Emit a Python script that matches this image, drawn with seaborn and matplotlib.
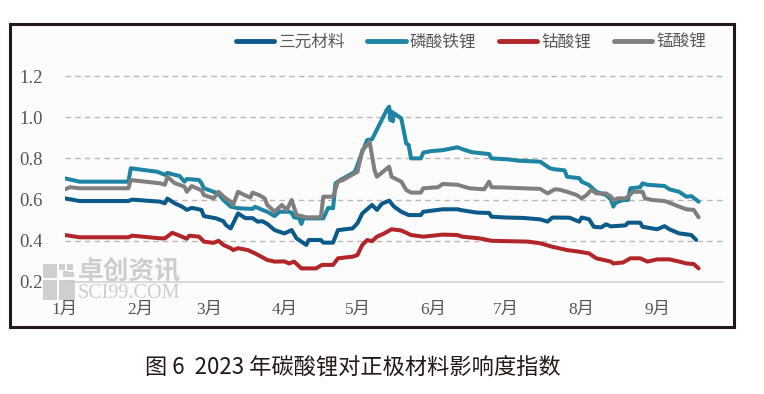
import numpy as np
import pandas as pd
import matplotlib
matplotlib.use("Agg")
import matplotlib.pyplot as plt
from matplotlib.patches import Rectangle
import seaborn as sns

# ---------------- data (day offset from 2023-01-01, index value) -------------
series_names = ["三元材料", "磷酸铁锂", "钴酸锂", "锰酸锂"]

ncm_day = [0, 6, 26, 27.5, 39, 41, 42, 45, 48, 50, 52, 56, 57, 62, 65, 66, 68, 71, 74, 77, 79, 81, 83, 86,
           90, 93, 95, 99, 100, 105, 106, 110, 112, 118, 120, 122, 126, 128, 130, 133, 135, 138, 141, 146,
           147, 155, 161, 163, 169, 174, 175, 181, 188, 195, 198, 200, 207, 211, 212, 215, 217, 220, 222,
           224, 230, 231, 236, 237, 243, 246, 248, 252, 257, 259]
ncm_val = [0.606, 0.593, 0.593, 0.600, 0.590, 0.582, 0.605, 0.582, 0.566, 0.550, 0.560, 0.550, 0.520, 0.509,
           0.495, 0.477, 0.460, 0.533, 0.510, 0.510, 0.493, 0.495, 0.482, 0.452, 0.436, 0.452, 0.412, 0.380,
           0.404, 0.404, 0.391, 0.391, 0.452, 0.460, 0.485, 0.533, 0.574, 0.550, 0.580, 0.595, 0.566, 0.541,
           0.525, 0.525, 0.541, 0.553, 0.553, 0.548, 0.537, 0.535, 0.517, 0.513, 0.511, 0.504, 0.493, 0.513,
           0.512, 0.493, 0.513, 0.505, 0.468, 0.465, 0.480, 0.470, 0.475, 0.488, 0.488, 0.468, 0.456, 0.471,
           0.456, 0.436, 0.428, 0.404]

lfp_day = [0, 6, 26, 27, 38, 41, 42, 45, 47, 49, 50, 55, 56, 57, 61, 63, 65, 68, 71, 77, 78, 81, 83, 86, 88,
           92, 93, 94, 96, 97, 98, 99, 106, 108, 110, 111, 113, 119, 122, 124, 126, 132, 133, 133.5, 134,
           134.5, 135, 138, 140, 141, 142, 146, 147, 150, 155, 161, 163, 167, 174, 175, 182, 186, 195, 197,
           199, 201, 205, 206, 211, 212, 215, 216, 218, 222, 224, 225, 226, 229, 231, 232, 236, 237, 239,
           246, 248, 252, 255, 257, 260]
lfp_val = [0.703, 0.687, 0.687, 0.752, 0.735, 0.720, 0.730, 0.720, 0.715, 0.687, 0.700, 0.695, 0.680, 0.655,
           0.638, 0.628, 0.598, 0.566, 0.558, 0.555, 0.565, 0.550, 0.541, 0.520, 0.541, 0.541, 0.535, 0.514,
           0.510, 0.482, 0.514, 0.509, 0.509, 0.560, 0.558, 0.679, 0.695, 0.735, 0.832, 0.889, 0.893, 1.035,
           1.051, 0.986, 1.027, 0.980, 1.019, 0.994, 0.873, 0.865, 0.800, 0.800, 0.828, 0.835, 0.840, 0.854,
           0.845, 0.830, 0.821, 0.800, 0.795, 0.789, 0.784, 0.768, 0.752, 0.747, 0.742, 0.711, 0.704, 0.687,
           0.671, 0.660, 0.638, 0.622, 0.600, 0.566, 0.585, 0.598, 0.598, 0.655, 0.660, 0.679, 0.672, 0.666,
           0.650, 0.638, 0.614, 0.617, 0.590]

lco_day = [0, 6, 26, 27.5, 39, 41, 44, 47, 50, 51, 55, 57, 61, 63, 65, 68, 69, 71, 75, 78, 83, 86, 90, 92,
           94, 97, 103, 105.5, 110, 112, 118, 120, 122, 124, 126, 128, 131, 134, 138, 142, 147, 155, 161,
           163, 170, 175, 190, 195, 200, 206, 211, 215, 218, 224, 225, 229, 232, 236, 239, 243, 248, 252,
           255, 258, 260]
lco_val = [0.428, 0.417, 0.417, 0.425, 0.412, 0.412, 0.439, 0.425, 0.410, 0.425, 0.420, 0.396, 0.390, 0.400,
           0.380, 0.364, 0.355, 0.364, 0.355, 0.339, 0.307, 0.299, 0.300, 0.290, 0.299, 0.266, 0.266, 0.283,
           0.283, 0.315, 0.323, 0.331, 0.380, 0.404, 0.398, 0.420, 0.436, 0.456, 0.450, 0.428, 0.420, 0.430,
           0.428, 0.420, 0.412, 0.400, 0.396, 0.388, 0.371, 0.355, 0.347, 0.339, 0.315, 0.299, 0.290, 0.295,
           0.315, 0.315, 0.299, 0.310, 0.310, 0.299, 0.290, 0.287, 0.266]

lmo_day = [0, 2, 6, 26, 27, 39, 41, 42, 45, 49, 50, 52, 56, 57, 61, 63, 65, 66, 68, 69, 71, 74, 76, 77, 80,
           82, 83, 86, 89, 91, 93, 95, 97, 99, 105, 106, 110, 112, 114, 120, 122, 124, 125, 127, 128, 133,
           134, 138, 140, 142, 146, 147, 153, 155, 161, 166, 172, 174, 175, 182, 188, 195, 198, 201, 203,
           206, 210, 212, 214, 216, 218, 222, 224, 225, 227, 230, 232, 233, 237, 238, 241, 246, 248, 252,
           255, 258, 260]
lmo_val = [0.650, 0.660, 0.655, 0.655, 0.695, 0.679, 0.672, 0.711, 0.680, 0.663, 0.638, 0.666, 0.645, 0.622,
           0.606, 0.638, 0.615, 0.606, 0.590, 0.574, 0.638, 0.620, 0.610, 0.634, 0.620, 0.605, 0.574, 0.541,
           0.574, 0.550, 0.598, 0.525, 0.520, 0.514, 0.514, 0.614, 0.614, 0.687, 0.695, 0.735, 0.840, 0.865,
           0.881, 0.743, 0.711, 0.760, 0.711, 0.687, 0.647, 0.634, 0.634, 0.655, 0.660, 0.676, 0.672, 0.655,
           0.650, 0.687, 0.660, 0.658, 0.655, 0.652, 0.630, 0.650, 0.648, 0.638, 0.622, 0.606, 0.622, 0.647,
           0.630, 0.630, 0.615, 0.598, 0.606, 0.606, 0.625, 0.638, 0.638, 0.606, 0.598, 0.593, 0.585, 0.566,
           0.553, 0.550, 0.514]

y_ticks = [0.2, 0.4, 0.6, 0.8, 1.0, 1.2]
month_labels = ["1月", "2月", "3月", "4月", "5月", "6月", "7月", "8月", "9月"]

colors = {"三元材料": "#0b5a8a", "磷酸铁锂": "#1d84a3", "钴酸锂": "#b2262a", "锰酸锂": "#7f7f7f"}

# ---------------- build table ----------------
start = pd.Timestamp("2023-01-01")
frames = []
for name, d, v in [("三元材料", ncm_day, ncm_val), ("磷酸铁锂", lfp_day, lfp_val),
                   ("钴酸锂", lco_day, lco_val), ("锰酸锂", lmo_day, lmo_val)]:
    frames.append(pd.DataFrame({"series": name,
                                "date": start + pd.to_timedelta(np.array(d, dtype=float), unit="D"),
                                "value": v}))
df = pd.concat(frames, ignore_index=True)

# ---------------- figure ----------------
sns.set_theme(style="white")
plt.rcParams["font.family"] = ["Noto Sans CJK SC", "DejaVu Sans"]
plt.rcParams["axes.unicode_minus"] = False

W, H = 764, 394
fig = plt.figure(figsize=(W / 100, H / 100), dpi=100)
fig.patch.set_facecolor("white")

# outer frame (behind the axes)
fig.patches.append(Rectangle((10 / W, 1 - 327 / H), (734 - 10) / W, (327 - 24) / H,
                             transform=fig.transFigure, fill=True, facecolor="#fcfcfc",
                             edgecolor="#231815", linewidth=2.2, zorder=-5))

ax = fig.add_axes([65 / W, 1 - 282 / H, (723 - 65) / W, (282 - 55.4) / H])
ax.set_facecolor("none")
ax.set_zorder(1)

sns.lineplot(data=df, x="date", y="value", hue="series", hue_order=series_names,
             palette=colors, estimator=None, sort=False, linewidth=2.9, ax=ax, legend=True)

ax.set_xlim(start, pd.Timestamp("2023-09-28"))
ax.set_ylim(0.2, 1.3)
ax.set_xlabel("")
ax.set_ylabel("")

# grid
for yv in y_ticks[1:]:
    ax.axhline(yv, color="#bdb8b4", linestyle=(0, (4, 3)), linewidth=1.0, zorder=0)

for s in ["top", "right", "left"]:
    ax.spines[s].set_visible(False)
ax.spines["bottom"].set_color("#d4d4d4")
ax.spines["bottom"].set_linewidth(1.2)

ax.set_yticks(y_ticks)
ax.set_yticklabels([f"{t:.1f}" for t in y_ticks], family=["Liberation Serif", "Noto Sans CJK SC"],
                   fontsize=13.5, color="#555555")
ax.tick_params(axis="y", length=0, pad=16)

month_ticks = [pd.Timestamp(f"2023-{m:02d}-01") for m in range(1, 10)]
ax.set_xticks(month_ticks)
ax.set_xticklabels(month_labels, family=["Liberation Serif", "Noto Sans CJK SC"], fontsize=12.5,
                   color="#555555")
ax.tick_params(axis="x", length=5, width=1.2, color="#d4d4d4", pad=9, direction="out")

# legend
handles, labels = ax.get_legend_handles_labels()
if ax.get_legend():
    ax.get_legend().remove()
leg = fig.legend(handles, labels, loc="center", bbox_to_anchor=(471 / W, 1 - 42 / H), ncol=4,
                 frameon=False, fontsize=12, handlelength=2.3, handletextpad=0.25,
                 columnspacing=1.35, labelcolor="#595959")
for lh in leg.get_lines():
    lh.set_linewidth(3.5)

# watermark
for (x0, y0, w, h) in [(43, 264, 14, 14), (43, 280, 14, 20), (59, 280, 16, 20), (59, 264, 6, 6),
                       (67, 264, 6, 6), (63, 271, 6, 6), (69, 272, 5, 5)]:
    fig.patches.append(Rectangle((x0 / W, 1 - (y0 + h) / H), w / W, h / H, transform=fig.transFigure,
                                 facecolor="#c8c8c8", edgecolor="none", alpha=0.85, zorder=3))
fig.text(78 / W, 1 - 271 / H, "卓创资讯", fontsize=18.5, color="#c8c8c8", va="center", ha="left",
         fontweight="bold", alpha=0.9, zorder=3)
fig.text(78 / W, 1 - 293 / H, "SCI99.COM", fontsize=14.5, color="#c8c8c8", va="center", ha="left",
         family=["Liberation Serif"], alpha=0.9, zorder=3)

# caption
fig.text(353 / W, 1 - 368 / H, "图 6  2023 年碳酸锂对正极材料影响度指数", fontsize=16, color="#231815",
         ha="center", va="center")

fig.savefig("out.png", dpi=100)
